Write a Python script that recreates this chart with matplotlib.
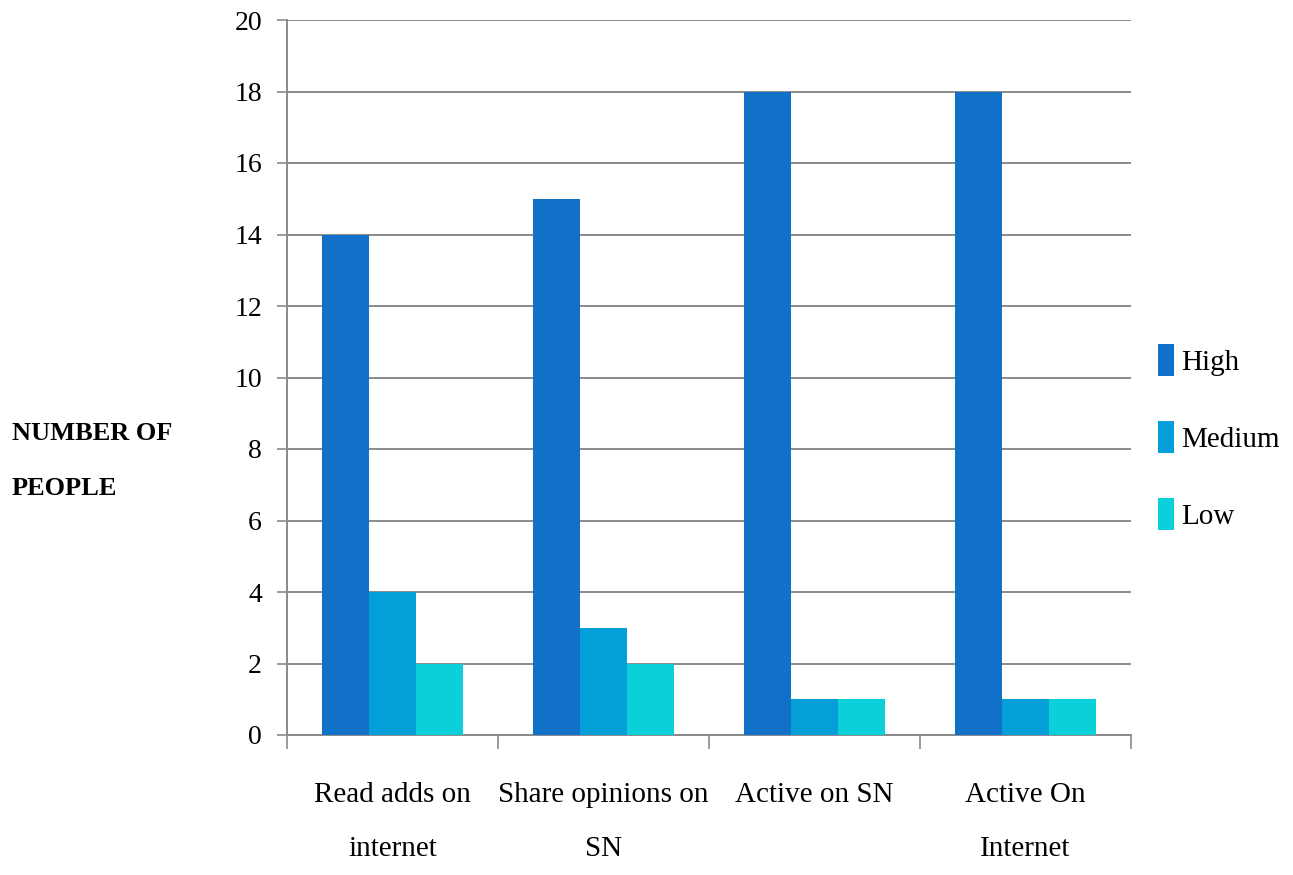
import matplotlib
matplotlib.use("Agg")
import matplotlib.pyplot as plt
import numpy as np

categories = ["Read adds on\ninternet", "Share opinions on\nSN", "Active on SN", "Active On\nInternet"]
high = [14, 15, 18, 18]
medium = [4, 3, 1, 1]
low = [2, 2, 1, 1]
series_names = ["High", "Medium", "Low"]
colors = ["#1170C8", "#049FD9", "#0BD0D9"]
yticks = [0, 2, 4, 6, 8, 10, 12, 14, 16, 18, 20]

plt.rcParams["font.family"] = ["Liberation Serif", "DejaVu Serif"]

fig = plt.figure(figsize=(12.93, 8.75), dpi=100)
ax = fig.add_axes([287 / 1293, 1 - 735 / 875, (1131 - 287) / 1293, 715 / 875])

x = np.arange(len(categories))
w = 0.223
for i, (vals, name, c) in enumerate(zip([high, medium, low], series_names, colors)):
    ax.bar(x + (i - 1) * w, vals, width=w, color=c, label=name, zorder=3)

ax.set_xlim(-0.5, len(categories) - 0.5)
ax.set_ylim(0, 20)
ax.set_yticks(yticks)
ax.set_yticklabels([str(t) for t in yticks], fontsize=20)
ax.yaxis.grid(True, color="#8a8a8a", linewidth=1.4, zorder=0)
ax.set_axisbelow(True)

# category labels centred on each group, tick marks on group boundaries
ax.set_xticks(x)
ax.set_xticklabels(categories, fontsize=21, linespacing=2.4, va="top")
ax.tick_params(axis="x", length=0, pad=34)
ax.set_xticks(np.arange(-0.5, len(categories)), minor=True)
ax.tick_params(axis="x", which="minor", length=10, width=1.2, color="#8a8a8a")
ax.tick_params(axis="y", length=7, width=1.2, color="#8a8a8a", pad=11)

for s in ["top", "right"]:
    ax.spines[s].set_visible(False)
ax.spines["left"].set_color("#8a8a8a")
ax.spines["left"].set_linewidth(1.4)
ax.spines["bottom"].set_color("#8a8a8a")
ax.spines["bottom"].set_linewidth(1.4)

fig.text(12 / 1293, 1 - 461 / 875, "NUMBER OF\nPEOPLE", fontsize=19, fontweight="bold",
         ha="left", va="center", linespacing=2.75)

fig.legend(loc="center left", bbox_to_anchor=(1158 / 1293, 1 - 437 / 875), frameon=False,
           fontsize=21, handlelength=0.55, handleheight=1.3, handletextpad=0.25,
           labelspacing=1.55, borderpad=0.0, borderaxespad=0.0)

fig.savefig("out.png", dpi=100)
